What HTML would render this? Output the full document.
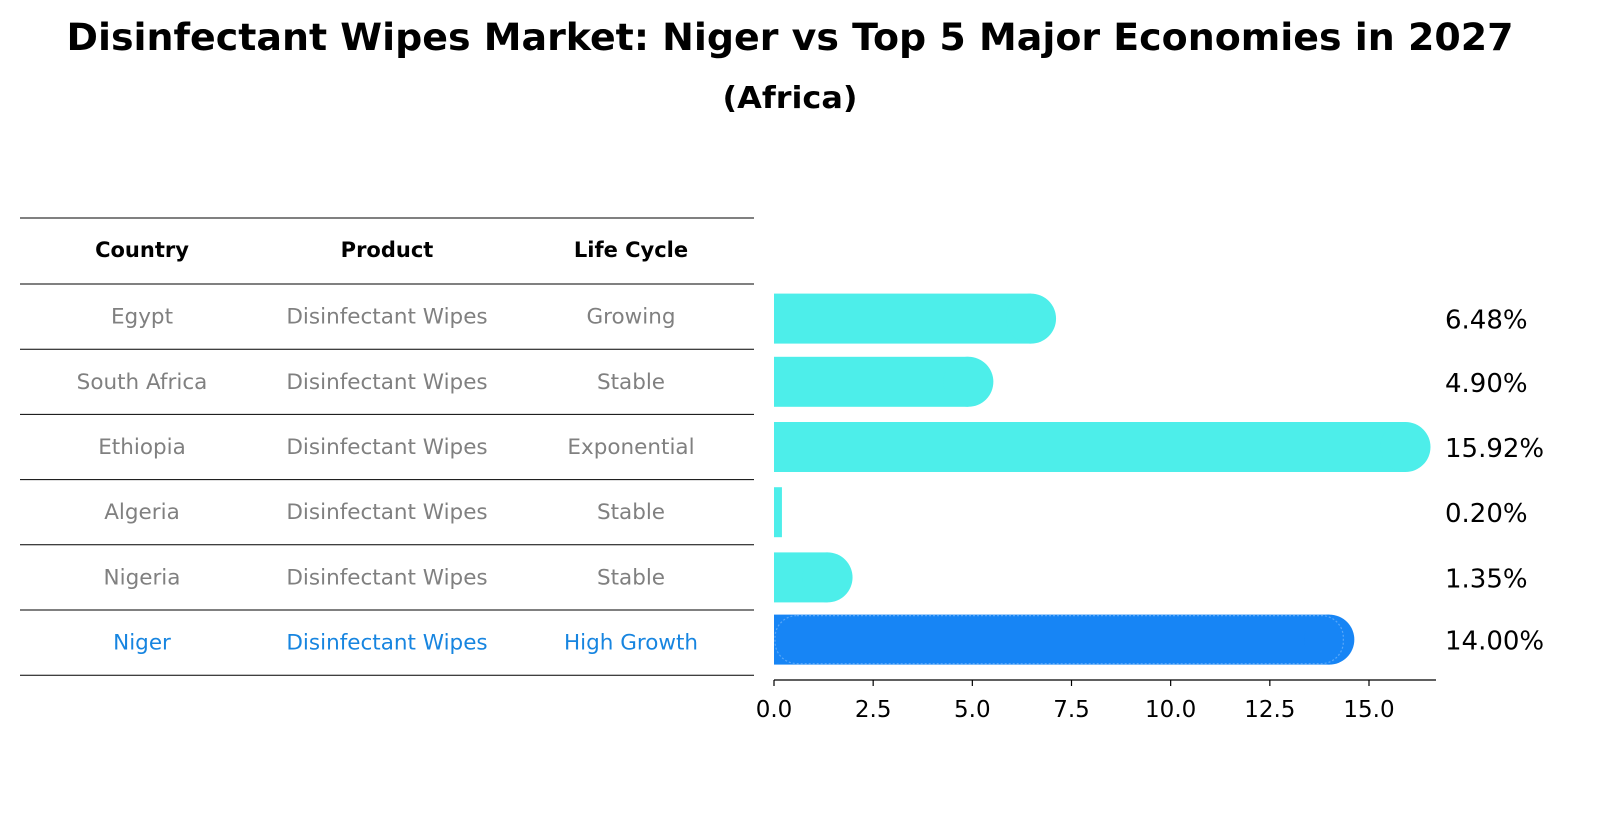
<!DOCTYPE html>
<html><head><meta charset="utf-8"><style>
body{margin:0;background:#fff;font-family:"Liberation Sans","DejaVu Sans",sans-serif;}
svg text{font-family:"DejaVu Sans","Liberation Sans",sans-serif;}
</style></head><body>
<svg width="1604" height="823" xmlns="http://www.w3.org/2000/svg" id="chart">
<text x="790" y="50" text-anchor="middle" font-size="37" font-weight="bold" textLength="1447" lengthAdjust="spacingAndGlyphs">Disinfectant Wipes Market: Niger vs Top 5 Major Economies in 2027</text>
<text x="790" y="108" text-anchor="middle" font-size="30" font-weight="bold" textLength="135" lengthAdjust="spacingAndGlyphs">(Africa)</text>
<g id="table"></g>
<g id="bars"></g>
<g id="axis"></g>
</svg>
<script>
const countries=["Egypt","South Africa","Ethiopia","Algeria","Nigeria","Niger"];
const products=["Disinfectant Wipes","Disinfectant Wipes","Disinfectant Wipes","Disinfectant Wipes","Disinfectant Wipes","Disinfectant Wipes"];
const lifeCycles=["Growing","Stable","Exponential","Stable","Stable","High Growth"];
const values=[6.48,4.90,15.92,0.20,1.35,14.00];
const valueLabels=["6.48%","4.90%","15.92%","0.20%","1.35%","14.00%"];
const ticks=[0,2.5,5,7.5,10,12.5,15];
const tickLabels=["0.0","2.5","5.0","7.5","10.0","12.5","15.0"];

const NS="http://www.w3.org/2000/svg";
const x0=774, pxPerUnit=(1369-774)/15;
const xScale=v=>x0+v*pxPerUnit;
const rowTop=284, rowH=65.2;
const yRow=i=>rowTop+rowH*i+rowH/2;
function mk(tag,attrs,parent,txt){const e=document.createElementNS(NS,tag);for(const k in attrs)e.setAttribute(k,attrs[k]);if(txt!==undefined)e.textContent=txt;parent.appendChild(e);return e;}

const table=document.getElementById('table');
const colX=[142,387,631];
const headers=["Country","Product","Life Cycle"];
for(let r=0;r<=7;r++){
  const y=r===0?218:rowTop+rowH*(r-1);
  const l=mk('line',{x1:20,x2:754,y1:y,y2:y,stroke:'#000','stroke-width':1},table);
  
  
}
headers.forEach((h,j)=>{
  const t=mk('text',{x:colX[j],y:257,'text-anchor':'middle','font-size':21,'font-weight':'bold'},table,h);
  
  
});
countries.forEach((c,i)=>{
  const col=i===countries.length-1?'#1785e0':'#808080';
  [c,products[i],lifeCycles[i]].forEach((s,j)=>{
    const t=mk('text',{x:colX[j],y:yRow(i)+7,'text-anchor':'middle','font-size':21.5,fill:col},table,s);
    
    
  });
});

const bars=document.getElementById('bars');
const barH=50, cap=25;
values.forEach((v,i)=>{
  const last=i===values.length-1;
  const fill=last?'#1785f5':'#4deeea';
  const cy=yRow(i)+(i===0?2:0)-(last?3:0);
  const w=xScale(v)-x0;
  const g=mk('g',{},bars);
  
  
  mk('rect',{x:x0,y:cy-barH/2,width:w,height:barH,fill:fill},g);
  if(w>cap) mk('circle',{cx:xScale(v),cy:cy,r:barH/2,fill:fill},g);
  if(last) mk('rect',{x:x0+1,y:cy-barH/2+1,width:w+barH/2-12,height:barH-2,fill:'none',stroke:'#5aa8f8','stroke-width':1.2,'stroke-dasharray':'2 2',rx:22},g);
  const t=mk('text',{x:1445,y:cy+10,'font-size':26},bars,valueLabels[i]);
  
  
});

const axis=document.getElementById('axis');
mk('line',{x1:x0,x2:1436,y1:680,y2:680,stroke:'#000','stroke-width':1.2},axis);
ticks.forEach((t,i)=>{
  mk('line',{x1:xScale(t),x2:xScale(t),y1:680,y2:686,stroke:'#000','stroke-width':1.2},axis);
  const tx=mk('text',{x:xScale(t),y:717,'text-anchor':'middle','font-size':23},axis,tickLabels[i]);
  
  
});
</script>
</body></html>
